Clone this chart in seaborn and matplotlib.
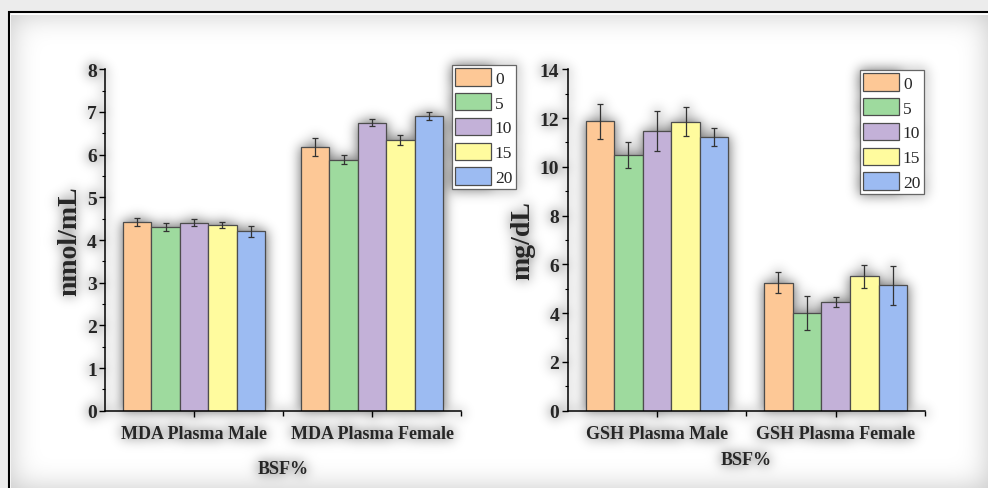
import numpy as np
import pandas as pd
import matplotlib
matplotlib.use("Agg")
import matplotlib.pyplot as plt
from matplotlib.patches import Rectangle, Patch
from matplotlib.ticker import AutoMinorLocator
import seaborn as sns

# BSF inclusion levels (%) and their fill colours
doses = ["0", "5", "10", "15", "20"]
palette = ["#FDC896", "#9EDA9E", "#C3B1D8", "#FFFB9E", "#9CBBF2"]

# Malondialdehyde, nmol/mL (mean and error)
mda_groups = ["MDA Plasma Male", "MDA Plasma Female"]
mda_male = [4.42, 4.30, 4.41, 4.36, 4.20]
mda_male_err = [0.10, 0.09, 0.08, 0.07, 0.12]
mda_female = [6.18, 5.88, 6.75, 6.35, 6.91]
mda_female_err = [0.20, 0.11, 0.09, 0.12, 0.09]

# Glutathione, mg/dL (mean and error)
gsh_groups = ["GSH Plasma Male", "GSH Plasma Female"]
gsh_male = [11.86, 10.48, 11.49, 11.85, 11.22]
gsh_male_err = [0.73, 0.53, 0.82, 0.60, 0.38]
gsh_female = [5.25, 4.00, 4.47, 5.51, 5.15]
gsh_female_err = [0.42, 0.70, 0.20, 0.47, 0.80]

sns.set_style("ticks")
plt.rcParams["font.family"] = ["Liberation Serif", "DejaVu Serif"]
plt.rcParams["font.weight"] = "bold"

W_PX, H_PX = 988, 489
fig = plt.figure(figsize=(W_PX / 100, H_PX / 100), dpi=100, facecolor="#ececec")

# page frame
frame = Rectangle((8.5 / W_PX, -0.05), 1.1, (1 - 12.5 / H_PX) + 0.05,
                  transform=fig.transFigure, facecolor="white",
                  edgecolor="black", linewidth=1.5, zorder=-20)
fig.add_artist(frame)

EDGE = "#4d4d4d"


def panel(ax, groups, vals, errs, ymax, ystep, ylabel, xlabelpad, legend_anchor):
    df = pd.DataFrame({
        "group": np.repeat(groups, len(doses)),
        "BSF": doses * len(groups),
        "value": np.concatenate(vals),
        "err": np.concatenate(errs),
    })
    sns.barplot(data=df, x="group", y="value", hue="BSF", order=groups,
                hue_order=doses, palette=palette, saturation=1,
                edgecolor=EDGE, linewidth=0.9, errorbar=None, width=0.8,
                gap=0, legend=False, ax=ax)
    for dose, cont in zip(doses, ax.containers):
        for g, bar in zip(groups, cont):
            e = df.loc[(df["group"] == g) & (df["BSF"] == dose), "err"].item()
            ax.errorbar(bar.get_x() + bar.get_width() / 2, bar.get_height(),
                        yerr=e, fmt="none", ecolor="#333333",
                        elinewidth=0.9, capsize=2.5, capthick=0.9)

    ax.set_facecolor("none")
    ax.set_xlim(-0.5, 1.5)
    ax.set_ylim(0, ymax)
    ax.set_yticks(np.arange(0, ymax + 0.01, ystep))
    ax.yaxis.set_minor_locator(AutoMinorLocator(2))
    ax.set_xticks([0.5, 1.5], minor=True)
    for side in ("top", "right"):
        ax.spines[side].set_visible(False)
    for side in ("left", "bottom"):
        ax.spines[side].set_linewidth(1.1)
        ax.spines[side].set_color("black")
    ax.tick_params(axis="y", which="major", direction="out", length=4,
                   width=1, labelsize=14, pad=2, color="black")
    ax.tick_params(axis="y", which="minor", direction="out", length=2.5,
                   width=0.8, color="black")
    ax.tick_params(axis="x", which="major", direction="out", length=4.5,
                   width=1, labelsize=13, pad=6, color="black")
    ax.tick_params(axis="x", which="minor", direction="out", length=3.5,
                   width=1, color="black")
    for lbl in ax.get_xticklabels() + ax.get_yticklabels():
        lbl.set_fontweight("bold")

    ax.set_ylabel(ylabel, fontsize=20, fontweight="bold", labelpad=3)
    ax.set_xlabel("BSF%", fontsize=13, fontweight="bold", labelpad=xlabelpad)

    handles = [Patch(facecolor=c, edgecolor=EDGE, linewidth=0.9) for c in palette]
    leg = ax.legend(handles, doses, loc="upper left",
                    bbox_to_anchor=legend_anchor, bbox_transform=fig.transFigure,
                    borderaxespad=0, frameon=True, fancybox=False,
                    edgecolor="#666666", framealpha=1,
                    prop={"family": "Liberation Serif", "size": 12.5,
                          "weight": "normal"},
                    handlelength=2.07, handleheight=1.15, labelspacing=0.36,
                    handletextpad=0.2, borderpad=0.2)
    leg.get_frame().set_linewidth(0.9)


ax1 = fig.add_axes([0.1063, 0.1581, 0.3603, 0.6981])
ax2 = fig.add_axes([0.5746, 0.1581, 0.3616, 0.6981])

panel(ax1, mda_groups, [mda_male, mda_female], [mda_male_err, mda_female_err],
      8, 1, "nmol/mL", 13, (452 / W_PX, 1 - 66 / H_PX))
panel(ax2, gsh_groups, [gsh_male, gsh_female], [gsh_male_err, gsh_female_err],
      14, 2, "mg/dL", 6, (860 / W_PX, 1 - 71 / H_PX))


# soft glow behind the drawn content and along the inside of the frame
def blur(a, sigma, pad_value=None):
    r = int(3 * sigma)
    x = np.arange(-r, r + 1)
    k = np.exp(-x ** 2 / (2 * sigma ** 2))
    k /= k.sum()
    if pad_value is None:
        p = np.pad(a, ((0, 0), (r, r)), mode="edge")
    else:
        p = np.pad(a, ((0, 0), (r, r)), mode="constant", constant_values=pad_value)
    h = sum(k[i] * p[:, i:i + a.shape[1]] for i in range(2 * r + 1))
    if pad_value is None:
        p = np.pad(h, ((r, r), (0, 0)), mode="edge")
    else:
        p = np.pad(h, ((r, r), (0, 0)), mode="constant", constant_values=pad_value)
    return sum(k[i] * p[i:i + a.shape[0], :] for i in range(2 * r + 1))


fig.canvas.draw()
rgba = np.asarray(fig.canvas.buffer_rgba()).astype(float) / 255.0
H, W = rgba.shape[:2]
lum = rgba[..., :3].mean(axis=2)
yy, xx = np.mgrid[0:H, 0:W]
inside = (xx > 10) & (yy > 14)
ink = ((lum < 0.96) & inside).astype(float)
outside = (~inside).astype(float)
glow = 0.55 * blur(ink, 6) + 0.22 * blur(outside, 14, pad_value=1.0)
overlay = np.zeros((H, W, 4))
overlay[..., 3] = np.clip(glow, 0, 0.6) * inside
fig.figimage(overlay, xo=0, yo=0, origin="upper", zorder=-10)

fig.savefig("out.png", dpi=100)
